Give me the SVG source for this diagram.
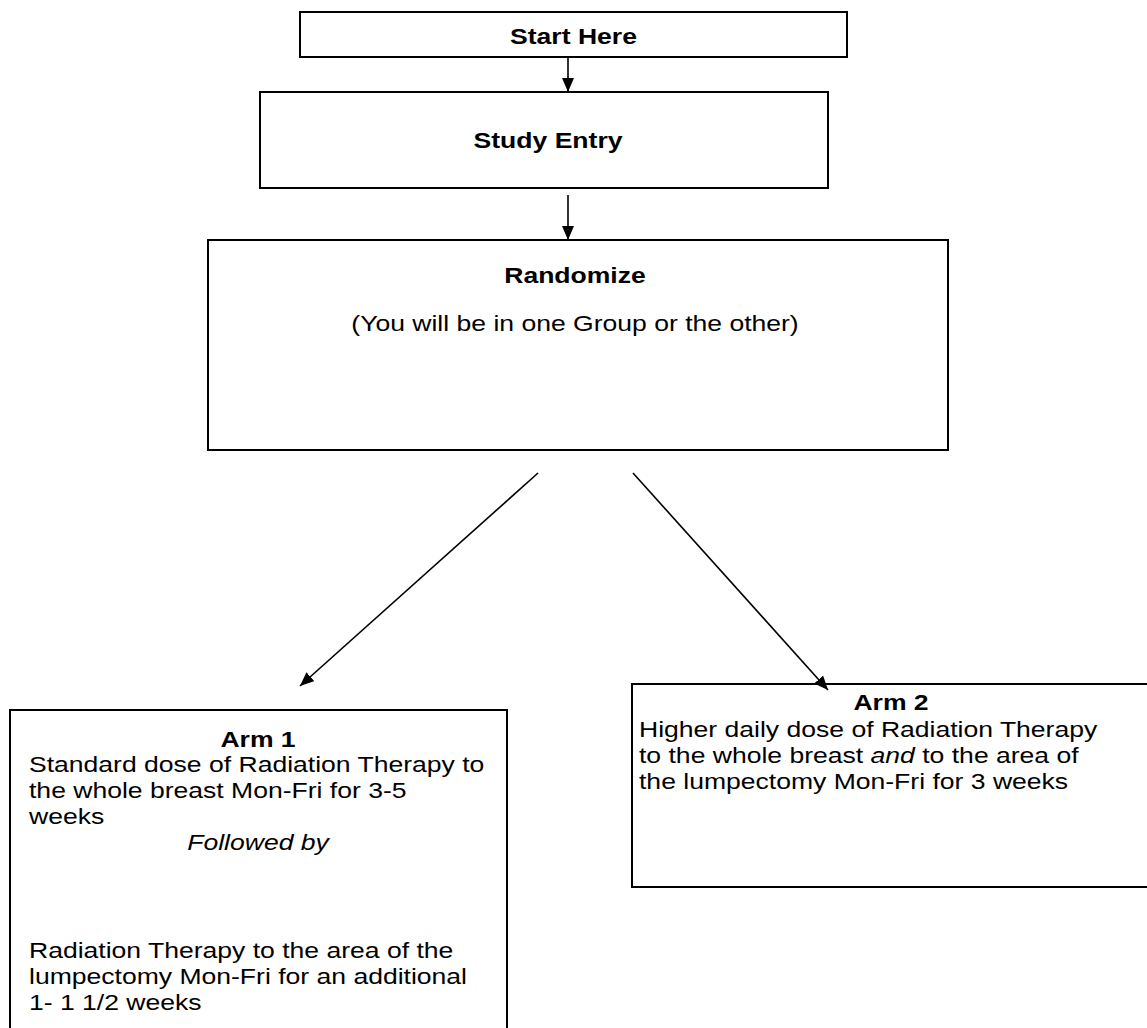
<svg xmlns="http://www.w3.org/2000/svg" width="1147" height="1028" viewBox="0 0 1147 1028">
<defs>
<style>
.box{fill:#fff;stroke:#000;stroke-width:2}
.t{font-family:"Liberation Sans",Arial,sans-serif;font-size:22.5px;fill:#000}
.b{font-weight:bold}
.c{text-anchor:middle}
.i{font-style:italic}
.conn{stroke:#000;stroke-width:1.6;fill:none}
</style>
<marker id="ah" viewBox="0 0 14 12" refX="14" refY="6" markerWidth="14" markerHeight="12" markerUnits="userSpaceOnUse" orient="auto">
<path d="M0,0 L14,6 L0,12 z" fill="#000"/>
</marker>
</defs>
<rect width="1147" height="1028" fill="#fff"/>
<g id="start">
<rect class="box" x="300" y="12" width="547" height="45"/>
<text class="t b c" transform="translate(573.5,44) scale(1.18,1)">Start Here</text>
</g>
<g id="study">
<rect class="box" x="260" y="92" width="568" height="96"/>
<text class="t b c" transform="translate(548,148) scale(1.18,1)">Study Entry</text>
</g>
<g id="randomize">
<rect class="box" x="208" y="240" width="740" height="210"/>
<text class="t b c" transform="translate(575,283) scale(1.18,1)">Randomize</text>
<text class="t c" transform="translate(575,331) scale(1.18,1)">(You will be in one Group or the other)</text>
</g>
<g id="arm1">
<rect class="box" x="10" y="710" width="497" height="330"/>
<text class="t b c" transform="translate(258,747) scale(1.18,1)">Arm 1</text>
<text class="t" transform="translate(29,772) scale(1.18,1)">Standard dose of Radiation Therapy to</text>
<text class="t" transform="translate(29,798) scale(1.18,1)">the whole breast Mon-Fri for 3-5</text>
<text class="t" transform="translate(29,824) scale(1.18,1)">weeks</text>
<text class="t c i" transform="translate(258,850) scale(1.18,1)">Followed by</text>
<text class="t" transform="translate(29,958) scale(1.18,1)">Radiation Therapy to the area of the</text>
<text class="t" transform="translate(29,984) scale(1.18,1)">lumpectomy Mon-Fri for an additional</text>
<text class="t" transform="translate(29,1010) scale(1.18,1)">1- 1 1/2 weeks</text>
</g>
<g id="arm2">
<rect class="box" x="632" y="684" width="520" height="203"/>
<text class="t b c" transform="translate(891,710) scale(1.18,1)">Arm 2</text>
<text class="t" transform="translate(639,737) scale(1.18,1)">Higher daily dose of Radiation Therapy</text>
<text class="t" transform="translate(639,763) scale(1.18,1)">to the whole breast <tspan class="i">and</tspan> to the area of</text>
<text class="t" transform="translate(639,789) scale(1.18,1)">the lumpectomy Mon-Fri for 3 weeks</text>
</g>
<g id="connectors">
<line class="conn" x1="568" y1="57" x2="568" y2="92" marker-end="url(#ah)"/>
<line class="conn" x1="568" y1="195" x2="568" y2="240" marker-end="url(#ah)"/>
<line class="conn" x1="538" y1="473" x2="300" y2="686" marker-end="url(#ah)"/>
<line class="conn" x1="633" y1="473" x2="828" y2="690" marker-end="url(#ah)"/>
</g>
</svg>
